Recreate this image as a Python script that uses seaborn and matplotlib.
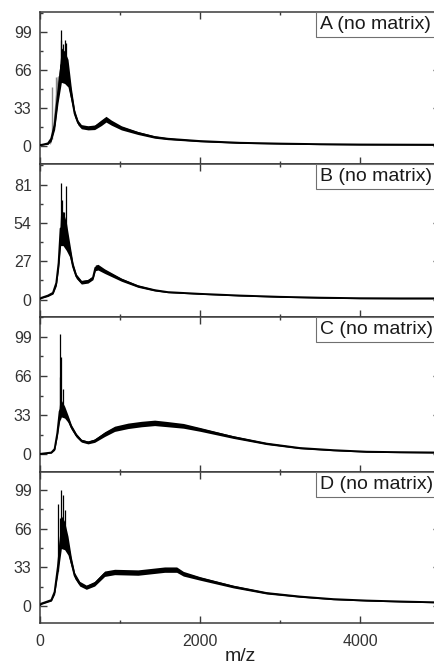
import numpy as np
import pandas as pd
import matplotlib
matplotlib.use("Agg")
import matplotlib.pyplot as plt
from matplotlib.ticker import MultipleLocator, AutoMinorLocator
import seaborn as sns

sns.set_theme(style="ticks")
plt.rcParams["font.family"] = ["Liberation Sans", "DejaVu Sans"]

# ---- spectra: smoothed trace (mz, intensity) and half-width of the noise band ----
a_mz = [0, 40, 100, 140, 183, 225, 267, 308, 350, 392, 433, 475, 517, 600, 683,
        767, 825, 892, 1017, 1225, 1433, 1600, 2000, 2500, 3000, 3500, 4000, 4500, 5000]
a_val = [0.5, 1, 2, 6, 18, 45, 70, 68, 63, 44, 28, 20, 16.5, 15.5, 16,
         20, 23, 20, 15.5, 11, 7.5, 6, 4, 2.5, 1.8, 1.3, 1, 0.9, 0.8]
a_hw = [0.3, 0.3, 0.8, 2, 4, 8, 15, 14, 12, 6, 3, 2, 1.8, 1.8, 2,
        2.5, 2.5, 2.2, 1.8, 1.3, 1, 0.8, 0.6, 0.5, 0.4, 0.4, 0.4, 0.4, 0.4]

b_mz = [0, 17, 100, 162, 204, 233, 258, 288, 329, 371, 412, 454, 517, 600, 662,
        692, 725, 808, 1017, 1225, 1433, 1600, 2000, 2500, 3000, 3500, 4000, 4500, 5000]
b_val = [0.5, 1.2, 2.8, 4.7, 11.7, 25.8, 50, 50, 44.6, 35, 23.5, 16.4, 12.2, 12.9, 15.3,
         22.3, 22.8, 20, 14, 9.4, 6.6, 5.2, 4.0, 2.8, 1.9, 1.3, 0.9, 0.8, 0.8]
b_hw = [0.3, 0.4, 0.6, 0.8, 2, 4, 12, 12, 10, 5, 2.5, 1.6, 1.3, 1.3, 1.3,
        2, 2, 1.6, 1.1, 0.8, 0.6, 0.4, 0.3, 0.3, 0.3, 0.3, 0.3, 0.3, 0.3]

c_mz = [0, 17, 142, 183, 217, 246, 267, 308, 350, 392, 454, 517, 600, 683, 808,
        933, 1100, 1267, 1433, 1583, 1792, 2000, 2417, 2833, 3250, 3667, 4083, 4500, 5000]
c_val = [0.3, 0.5, 1.5, 4.5, 18, 36, 38.5, 35.5, 30, 23, 16, 11.5, 10, 11.5, 17,
         21.5, 24, 25.5, 26.5, 25.5, 24, 21, 14.5, 9, 5.3, 3.5, 2.2, 1.8, 1.5]
c_hw = [0.3, 0.3, 0.4, 1, 3, 8, 7, 5, 3, 2, 1.6, 1.2, 1.2, 1.4, 2,
        2.2, 2.3, 2.3, 2.3, 2.2, 2, 1.6, 1.1, 0.8, 0.6, 0.5, 0.4, 0.4, 0.4]

d_mz = [0, 17, 142, 183, 225, 267, 308, 350, 392, 433, 496, 579, 683, 808,
        933, 1225, 1558, 1708, 1792, 2000, 2417, 2833, 3250, 3667, 4083, 4500, 5000]
d_val = [0.8, 2, 5, 12, 34, 63, 60, 51.5, 37.5, 26, 19, 16, 19, 27.5,
         29, 28.5, 31, 31, 27.5, 23.5, 16.5, 11, 8, 5.8, 4.6, 3.8, 3]
d_hw = [0.4, 0.6, 0.8, 2, 6, 14, 12, 8, 4, 2.5, 2, 1.8, 2, 2.3,
        2.3, 2.3, 2.3, 2.3, 2, 1.5, 1.1, 0.8, 0.6, 0.5, 0.4, 0.4, 0.4]

# individual tall spikes: position, base and tip intensity
a_spk_mz = [260, 268, 285, 308, 329]
a_spk_lo = [55, 58, 60, 58, 55]
a_spk_hi = [92, 100.5, 88, 91.7, 89]
b_spk_mz = [258, 275, 300, 329]
b_spk_lo = [40, 40, 40, 38]
b_spk_hi = [82, 70, 62, 80]
c_spk_mz = [246, 255, 267, 282]
c_spk_lo = [30, 32, 33, 33]
c_spk_hi = [101, 65, 82, 55]
d_spk_mz = [225, 250, 267, 290, 308]
d_spk_lo = [30, 50, 52, 52, 50]
d_spk_hi = [87, 75, 99, 95, 82]

# second (grey) trace in panel A at low m/z
a2_mz = [120, 140, 160, 180, 200, 215, 230]
a2_val = [2, 5, 14, 28, 42, 52, 55]
a2_hw = [1, 2, 4, 6, 8, 8, 6]
a2_spk_mz = [150, 205]
a2_spk_lo = [6, 40]
a2_spk_hi = [51, 60]

panel_labels = ["A (no matrix)", "B (no matrix)", "C (no matrix)", "D (no matrix)"]
y_ticks = [[0, 33, 66, 99], [0, 27, 54, 81], [0, 33, 66, 99], [0, 33, 66, 99]]
y_limits = [(-15.9, 116.1), (-12.3, 95.5), (-14.6, 115.6), (-14.8, 114.6)]
x_ticks = [0, 2000, 4000]

panels = [
    (a_mz, a_val, a_hw, a_spk_mz, a_spk_lo, a_spk_hi),
    (b_mz, b_val, b_hw, b_spk_mz, b_spk_lo, b_spk_hi),
    (c_mz, c_val, c_hw, c_spk_mz, c_spk_lo, c_spk_hi),
    (d_mz, d_val, d_hw, d_spk_mz, d_spk_lo, d_spk_hi),
]

W, H = 434, 666
fig = plt.figure(figsize=(W / 100, H / 100), dpi=100)
fig.patch.set_facecolor("white")

left_px, right_px = 40, 440
edges_px = [12, 164, 317, 471.7, 623.3]
spine_col = "#3a3a3a"

axes = []
for i in range(4):
    top, bot = edges_px[i], edges_px[i + 1]
    ax = fig.add_axes([left_px / W, 1 - bot / H, (right_px - left_px) / W, (bot - top) / H])
    axes.append(ax)
    mz, val, hw, smz, slo, shi = panels[i]
    df = pd.DataFrame({"mz": mz, "intensity": val})
    lo = np.array(val) - np.array(hw)
    hi = np.array(val) + np.array(hw)

    if i == 0:
        ax.fill_between(a2_mz, np.array(a2_val) - np.array(a2_hw),
                        np.array(a2_val) + np.array(a2_hw), color="#8a8a8a", lw=0, zorder=1)
        ax.vlines(a2_spk_mz, a2_spk_lo, a2_spk_hi, color="#8a8a8a", lw=1.0, zorder=1)

    ax.fill_between(mz, lo, hi, color="black", lw=0, zorder=2)
    sns.lineplot(data=df, x="mz", y="intensity", ax=ax, color="black", lw=1.4, zorder=3)
    ax.vlines(smz, slo, shi, color="black", lw=0.9, zorder=3)

    ax.set_xlim(0, 5000)
    ax.set_ylim(*y_limits[i])
    ax.set_yticks(y_ticks[i])
    ax.yaxis.set_minor_locator(AutoMinorLocator(2))
    ax.set_xticks(x_ticks)
    ax.xaxis.set_minor_locator(MultipleLocator(1000))
    ax.tick_params(which="both", direction="in", top=True, right=True, colors=spine_col,
                   labelcolor="#333333", labelsize=11.5)
    ax.tick_params(which="major", length=5, width=1.0)
    ax.tick_params(which="minor", length=2.5, width=1.0)
    ax.tick_params(axis="y", pad=6)
    ax.tick_params(axis="x", pad=8)
    for s in ax.spines.values():
        s.set_color(spine_col)
        s.set_linewidth(1.1)
    ax.set_ylabel("")
    ax.set_xlabel("")
    if i < 3:
        ax.tick_params(axis="x", labelbottom=False)

    ax.text((320 - left_px) / (right_px - left_px), 1 - 4 / (bot - top), panel_labels[i],
            transform=ax.transAxes, ha="left", va="top", fontsize=14, color="#1a1a1a",
            bbox=dict(boxstyle="square,pad=0.2", facecolor="white", edgecolor="#707070",
                      linewidth=0.8), zorder=5)

axes[-1].set_xlabel("m/z", fontsize=14, color="#222222", labelpad=-1)

fig.savefig("out.png", dpi=100)
